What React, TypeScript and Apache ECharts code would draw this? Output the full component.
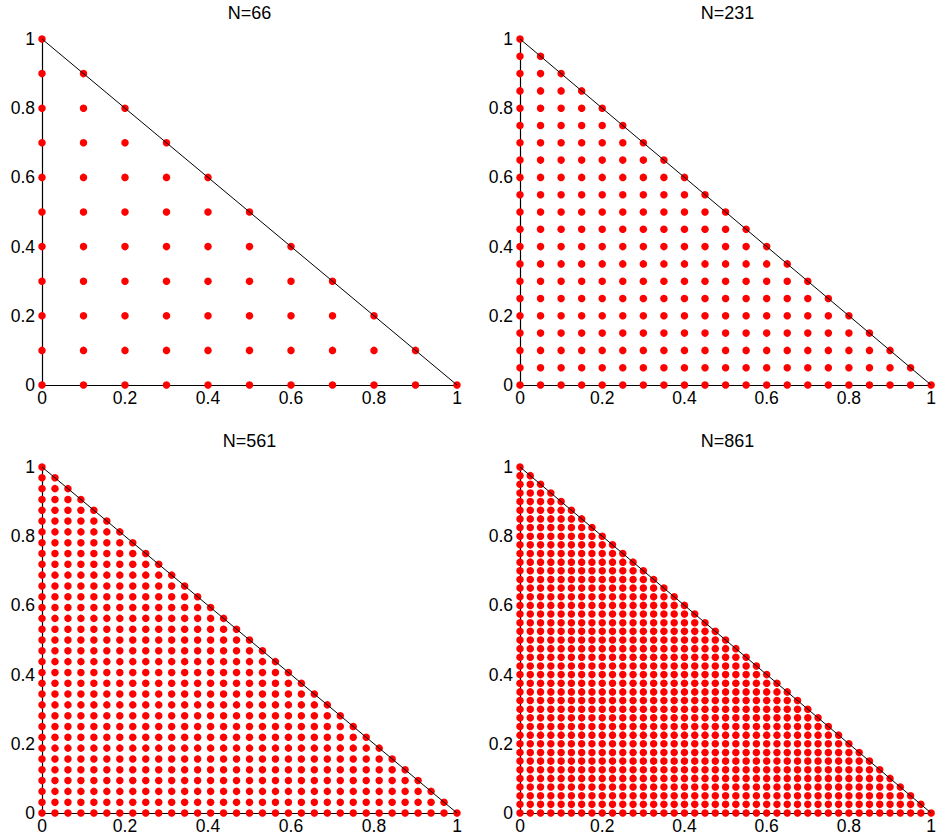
import React, { useEffect, useRef } from "react";
import * as echarts from "echarts";

// Number of subdivisions per side of each triangular lattice (N = (n+1)(n+2)/2)
const divisions = [10, 20, 32, 40];
const titles = ["N=66", "N=231", "N=561", "N=861"];
const tickValues = [0, 0.2, 0.4, 0.6, 0.8, 1];
const hypotenuse = [
  [0, 1],
  [1, 0],
];

const gridBoxes = [
  { left: 42, top: 39 },
  { left: 520, top: 39 },
  { left: 42, top: 467 },
  { left: 520, top: 467 },
];
const GW = 415;
const GH = 346;

function lattice(n: number): number[][] {
  const pts: number[][] = [];
  for (let i = 0; i <= n; i++) {
    for (let j = 0; j <= n - i; j++) {
      pts.push([i / n, j / n]);
    }
  }
  return pts;
}

export default function App() {
  const ref = useRef<HTMLDivElement>(null);
  useEffect(() => {
    document.body.style.margin = "0";
    if (!ref.current) return;
    const chart = echarts.init(ref.current, null, { renderer: "svg" });
    const font = "'Liberation Sans', Arial, Helvetica, sans-serif";
    const axisCommon = {
      min: 0,
      max: 1,
      interval: 0.2,
      splitLine: { show: false },
      axisTick: { show: false },
      axisLine: { show: true, lineStyle: { color: "#000", width: 1.2 } },
      axisLabel: {
        color: "#000",
        fontSize: 17.5,
        fontFamily: font,
        formatter: (v: number) => {
          const t = tickValues.find((x) => Math.abs(x - v) < 1e-9);
          return t === undefined ? "" : String(t);
        },
      },
    };
    const grids = gridBoxes.map((b) => ({
      left: b.left,
      top: b.top,
      width: GW,
      height: GH,
      containLabel: false,
    }));
    const xAxis = gridBoxes.map((_, i) => ({
      ...axisCommon,
      type: "value",
      gridIndex: i,
      axisLabel: { ...axisCommon.axisLabel, margin: 4 },
    }));
    const yAxis = gridBoxes.map((_, i) => ({
      ...axisCommon,
      type: "value",
      gridIndex: i,
      axisLabel: { ...axisCommon.axisLabel, margin: 7 },
    }));
    const series: any[] = [];
    divisions.forEach((n, i) => {
      series.push({
        type: "scatter",
        xAxisIndex: i,
        yAxisIndex: i,
        data: lattice(n),
        symbol: "circle",
        symbolSize: 7.5,
        itemStyle: { color: "#ff0000", opacity: 1 },
        clip: false,
        z: 2,
      });
      series.push({
        type: "line",
        xAxisIndex: i,
        yAxisIndex: i,
        data: hypotenuse,
        symbol: "none",
        lineStyle: { color: "#000", width: 1 },
        clip: false,
        z: 3,
      });
    });
    const graphic = titles.map((t, i) => ({
      type: "text",
      x: gridBoxes[i].left + GW / 2,
      y: gridBoxes[i].top - 26,
      style: {
        text: t,
        fill: "#000",
        fontSize: 18,
        fontFamily: font,
        textAlign: "center",
        textVerticalAlign: "middle",
      },
    }));
    chart.setOption({
      animation: false,
      backgroundColor: "#fff",
      grid: grids,
      xAxis,
      yAxis,
      series,
      graphic,
    });
    return () => chart.dispose();
  }, []);
  return <div ref={ref} style={{ width: 939, height: 839 }} />;
}
